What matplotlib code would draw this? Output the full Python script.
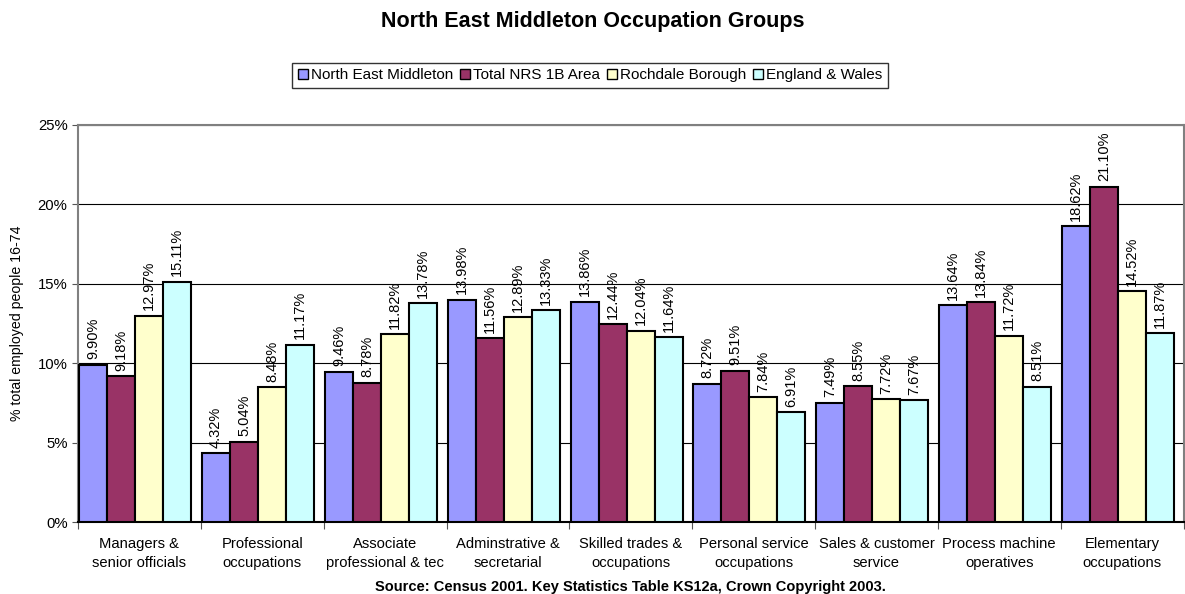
import numpy as np
import matplotlib.pyplot as plt
from matplotlib.patches import Patch

plt.rcParams['font.family'] = ['Liberation Sans', 'DejaVu Sans']

# Data
categories = ['Managers &\nsenior officials', 'Professional\noccupations',
              'Associate\nprofessional & tec', 'Adminstrative &\nsecretarial',
              'Skilled trades &\noccupations', 'Personal service\noccupations',
              'Sales & customer\nservice', 'Process machine\noperatives',
              'Elementary\noccupations']
series_names = ['North East Middleton', 'Total NRS 1B Area', 'Rochdale Borough', 'England & Wales']
ne_middleton = [9.90, 4.32, 9.46, 13.98, 13.86, 8.72, 7.49, 13.64, 18.62]
total_nrs = [9.18, 5.04, 8.78, 11.56, 12.44, 9.51, 8.55, 13.84, 21.10]
rochdale = [12.97, 8.48, 11.82, 12.89, 12.04, 7.84, 7.72, 11.72, 14.52]
england_wales = [15.11, 11.17, 13.78, 13.33, 11.64, 6.91, 7.67, 8.51, 11.87]
colors = ['#9999FF', '#993366', '#FFFFCC', '#CCFFFF']

fig = plt.figure(figsize=(11.85, 5.94), dpi=100)
ax = fig.add_axes([0.0658, 0.1212, 0.933, 0.6684])

x = np.arange(len(categories))
w = 0.228
for j, vals in enumerate([ne_middleton, total_nrs, rochdale, england_wales]):
    xs = x + 0.01 + j * w
    ax.bar(xs, vals, width=w, align='edge', color=colors[j],
           edgecolor='black', linewidth=1.5, zorder=3)
    for xi, v in zip(xs, vals):
        ax.text(xi + w / 2, v + 0.35, f'{v:.2f}%', rotation=90,
                ha='center', va='bottom', fontsize=10.5, zorder=4)

ax.set_xlim(0, len(categories))
ax.set_ylim(0, 25)
ax.set_yticks([0, 5, 10, 15, 20, 25])
ax.set_yticklabels([f'{t}%' for t in [0, 5, 10, 15, 20, 25]], fontsize=10.7)
ax.yaxis.grid(True, color='black', linewidth=0.8, zorder=0)
ax.set_axisbelow(True)

ax.set_xticks(np.arange(len(categories) + 1), minor=False)
ax.set_xticklabels([])
ax.set_xticks(x + 0.5, minor=True)
ax.set_xticklabels(categories, minor=True, fontsize=10.6, linespacing=1.4)
ax.tick_params(axis='x', which='minor', length=0, pad=11)
ax.tick_params(axis='x', which='major', length=5, color='#555555')
ax.tick_params(axis='y', length=4, color='#555555')

for side in ['left', 'top', 'right', 'bottom']:
    ax.spines[side].set_color('#808080')
    ax.spines[side].set_linewidth(1.5)
ax.spines['bottom'].set_color('black')

ax.set_ylabel('% total employed people 16-74', fontsize=10.2, labelpad=10)

fig.text(0.5, 0.963, 'North East Middleton Occupation Groups', ha='center',
         va='center', fontsize=15.5, fontweight='bold')
fig.text(0.532, 0.011, 'Source: Census 2001. Key Statistics Table KS12a, Crown Copyright 2003.',
         ha='center', va='center', fontsize=10.5, fontweight='bold')

handles = [Patch(facecolor=c, edgecolor='black', linewidth=1) for c in colors]
fig.legend(handles, series_names, loc='center', bbox_to_anchor=(0.498, 0.873),
           ncol=4, fontsize=11, frameon=True, fancybox=False, edgecolor='black',
           handlelength=0.7, handleheight=0.7, handletextpad=0.2,
           columnspacing=0.4, borderpad=0.35)

fig.savefig('out.png', dpi=100)
